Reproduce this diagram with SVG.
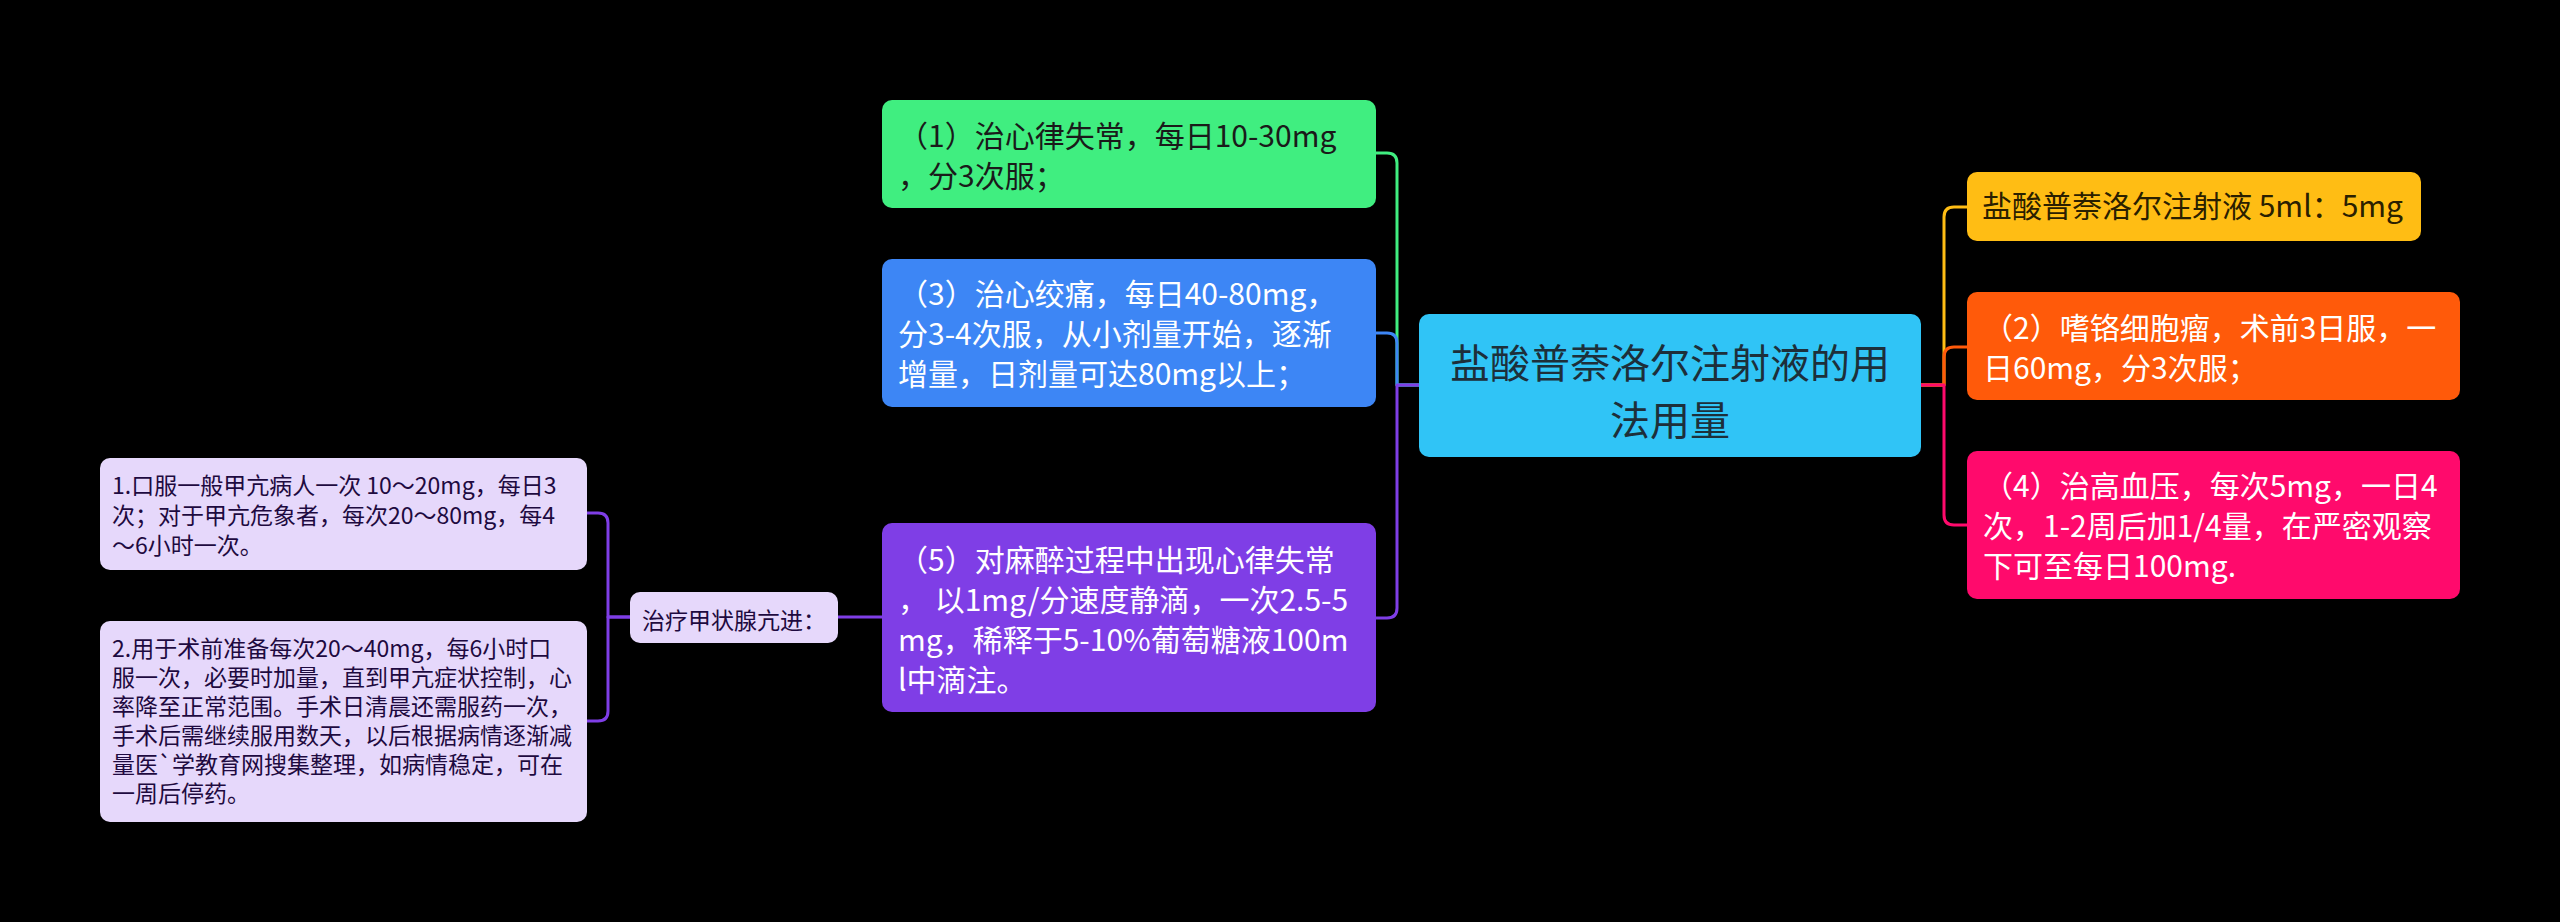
<svg xmlns="http://www.w3.org/2000/svg" width="2560" height="922" viewBox="0 0 2560 922">
<style>
text{font-family:"Microsoft YaHei","Noto Sans CJK SC","Noto Sans",sans-serif;}
.t30{font-size:30px;}
.t40{font-size:40px;}
.t23{font-size:23px;}
.c{fill:none;stroke-width:3;stroke-linejoin:round;}
</style>
<rect x="0" y="0" width="2560" height="922" fill="#000"/>
<g id="connectors">
<path class="c" stroke="#40EE80" d="M1419 385 H1397 V163 Q1397 153 1387 153 H1375"/>
<path class="c" stroke="#3D86F5" d="M1419 385 H1397 V343 Q1397 333 1387 333 H1375"/>
<path class="c" stroke="#7F3EE6" d="M1419 385 H1397 V608 Q1397 618 1387 618 H1375"/>
<path class="c" stroke="#FFBD14" d="M1921 385 H1944 V217 Q1944 207 1954 207 H1967"/>
<path class="c" stroke="#FF5A0A" d="M1921 385 H1944 V357 Q1944 347 1954 347 H1967"/>
<path class="c" stroke="#FF0A6C" d="M1921 385 H1944 V515 Q1944 525 1954 525 H1967"/>
<path class="c" stroke="#7F3EE6" d="M882 617 H838"/>
<path class="c" stroke="#7F3EE6" d="M630 617 H608 V523 Q608 513 598 513 H587"/>
<path class="c" stroke="#7F3EE6" d="M630 617 H608 V711 Q608 721 598 721 H587"/>
</g>
<g id="center">
<rect x="1419" y="314" width="502" height="143" rx="10" fill="#30C4F6"/>
<text class="t40" fill="#1d2f3a" text-anchor="middle"><tspan x="1670" y="378">盐酸普萘洛尔注射液的用</tspan><tspan x="1670" y="435">法用量</tspan></text>
</g>
<g id="n1">
<rect x="882" y="100" width="494" height="108" rx="10" fill="#40EE80"/>
<text class="t30" fill="#1a1a1a"><tspan x="898" y="147">（1）治心律失常，每日10-30mg</tspan><tspan x="898" y="187">，分3次服；</tspan></text>
</g>
<g id="n3">
<rect x="882" y="259" width="494" height="148" rx="10" fill="#3D86F5"/>
<text class="t30" fill="#fff"><tspan x="898" y="305">（3）治心绞痛，每日40-80mg，</tspan><tspan x="898" y="345">分3-4次服，从小剂量开始，逐渐</tspan><tspan x="898" y="385">增量，日剂量可达80mg以上；</tspan></text>
</g>
<g id="n5">
<rect x="882" y="523" width="494" height="189" rx="10" fill="#7F3EE6"/>
<text class="t30" fill="#fff"><tspan x="898" y="571">（5）对麻醉过程中出现心律失常</tspan><tspan x="898" y="611">， 以1mg/分速度静滴，一次2.5-5</tspan><tspan x="898" y="651">mg，稀释于5-10%葡萄糖液100m</tspan><tspan x="898" y="691">l中滴注。</tspan></text>
</g>
<g id="y1">
<rect x="1967" y="172" width="454" height="69" rx="10" fill="#FFBD14"/>
<text class="t30" fill="#2a2000" x="1982" y="217">盐酸普萘洛尔注射液 5ml：5mg</text>
</g>
<g id="n2">
<rect x="1967" y="292" width="493" height="108" rx="10" fill="#FF5A0A"/>
<text class="t30" fill="#fff"><tspan x="1983" y="339">（2）嗜铬细胞瘤，术前3日服，一</tspan><tspan x="1983" y="379">日60mg，分3次服；</tspan></text>
</g>
<g id="n4">
<rect x="1967" y="451" width="493" height="148" rx="10" fill="#FF0A6C"/>
<text class="t30" fill="#fff"><tspan x="1983" y="497">（4）治高血压，每次5mg，一日4</tspan><tspan x="1983" y="537">次，1-2周后加1/4量，在严密观察</tspan><tspan x="1983" y="577">下可至每日100mg.</tspan></text>
</g>
<g id="hyper">
<rect x="630" y="592" width="208" height="51" rx="10" fill="#E6D8FB"/>
<text class="t23" fill="#1e0a40" x="642" y="629">治疗甲状腺亢进：</text>
</g>
<g id="h1">
<rect x="100" y="458" width="487" height="112" rx="10" fill="#E6D8FB"/>
<text class="t23" fill="#1e0a40"><tspan x="112" y="494">1.口服一般甲亢病人一次 10～20mg，每日3</tspan><tspan x="112" y="524">次；对于甲亢危象者，每次20～80mg，每4</tspan><tspan x="112" y="554">～6小时一次。</tspan></text>
</g>
<g id="h2">
<rect x="100" y="621" width="487" height="201" rx="10" fill="#E6D8FB"/>
<text class="t23" fill="#1e0a40"><tspan x="112" y="657">2.用于术前准备每次20～40mg，每6小时口</tspan><tspan x="112" y="686">服一次，必要时加量，直到甲亢症状控制，心</tspan><tspan x="112" y="715">率降至正常范围。手术日清晨还需服药一次，</tspan><tspan x="112" y="744">手术后需继续服用数天，以后根据病情逐渐减</tspan><tspan x="112" y="773">量医`学教育网搜集整理，如病情稳定，可在</tspan><tspan x="112" y="802">一周后停药。</tspan></text>
</g>
</svg>
